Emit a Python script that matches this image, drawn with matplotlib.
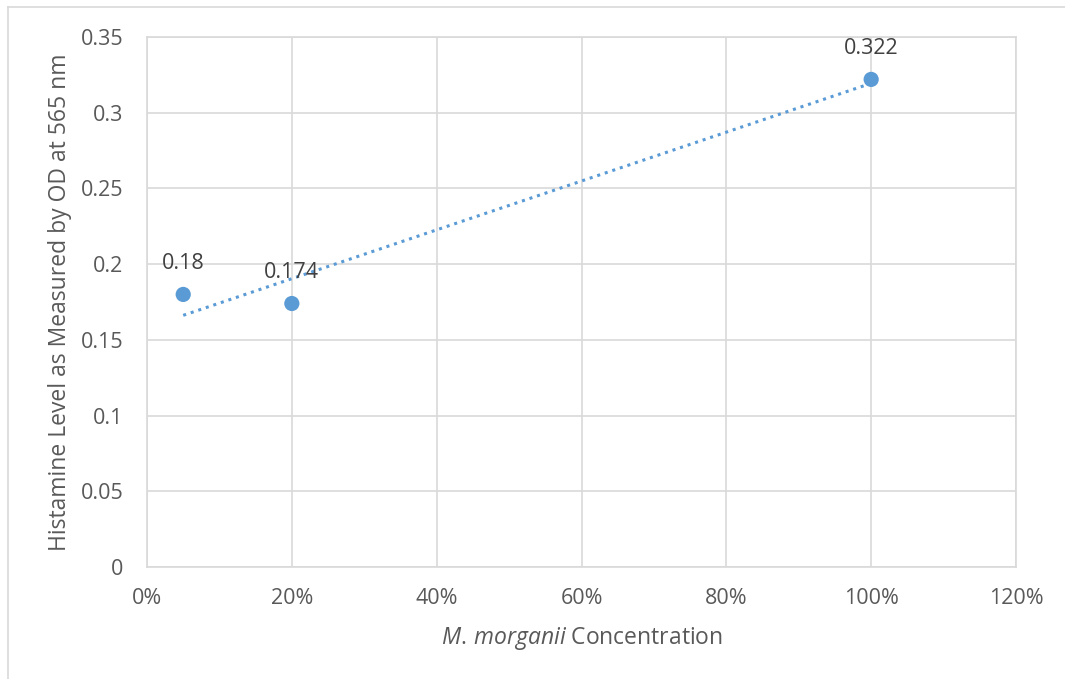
import numpy as np
import matplotlib
matplotlib.use('agg')
import matplotlib.pyplot as plt
from matplotlib.lines import Line2D
from matplotlib.ticker import FuncFormatter, MultipleLocator

plt.rcParams['font.family'] = ['Open Sans', 'DejaVu Sans']
plt.rcParams['mathtext.fontset'] = 'custom'
plt.rcParams['mathtext.rm'] = 'Open Sans'
plt.rcParams['mathtext.it'] = 'Open Sans:italic'

concentration = [0.05, 0.20, 1.00]
histamine = [0.18, 0.174, 0.322]
labels = ['0.18', '0.174', '0.322']

blue = '#5B9BD5'
grid_col = '#D9D9D9'
text_col = '#595959'

fig = plt.figure(figsize=(10.65, 6.79), dpi=100)
ax = fig.add_axes([147/1065, 1-567/679, (1016-147)/1065, (567-37)/679])

# outer chart frame (left and top edges visible)
fig.add_artist(Line2D([8/1065, 8/1065], [0, 1-7/679], transform=fig.transFigure, color=grid_col, lw=1.2))
fig.add_artist(Line2D([8/1065, 1], [1-7/679, 1-7/679], transform=fig.transFigure, color=grid_col, lw=1.2))

ax.set_xlim(0, 1.2)
ax.set_ylim(0, 0.35)
ax.xaxis.set_major_locator(MultipleLocator(0.2))
ax.yaxis.set_major_locator(MultipleLocator(0.05))
ax.xaxis.set_major_formatter(FuncFormatter(lambda v, p: '{:.0f}%'.format(v*100)))
ax.yaxis.set_major_formatter(FuncFormatter(lambda v, p: '0' if abs(v) < 1e-9 else '{:g}'.format(round(v, 2))))

ax.grid(True, color=grid_col, lw=1.2)
ax.set_axisbelow(True)
for s in ax.spines.values():
    s.set_color(grid_col)
    s.set_linewidth(1.2)
ax.tick_params(length=0, labelsize=15.5, colors=text_col)
ax.tick_params(axis='y', pad=17)
ax.tick_params(axis='x', pad=15)

# linear trendline
m, b = np.polyfit(concentration, histamine, 1)
xs = np.array([min(concentration), max(concentration)])
ax.plot(xs, m*xs + b, color=blue, lw=2.2, linestyle=(0, (1, 1.6)), zorder=2)

ax.scatter(concentration, histamine, s=120, color=blue, zorder=3, edgecolors='none')

for x, y, t in zip(concentration, histamine, labels):
    ax.annotate(t, (x, y), xytext=(0, 15), textcoords='offset points',
                ha='center', va='bottom', fontsize=15.5, color='#404040')

ax.set_xlabel(r'$M.\!\ morganii$ Concentration', fontsize=16.5, color=text_col, labelpad=12)
ax.set_ylabel('Histamine Level as Measured by OD at 565 nm', fontsize=16.5, color=text_col, labelpad=6)

fig.savefig('out.png', dpi=100)
